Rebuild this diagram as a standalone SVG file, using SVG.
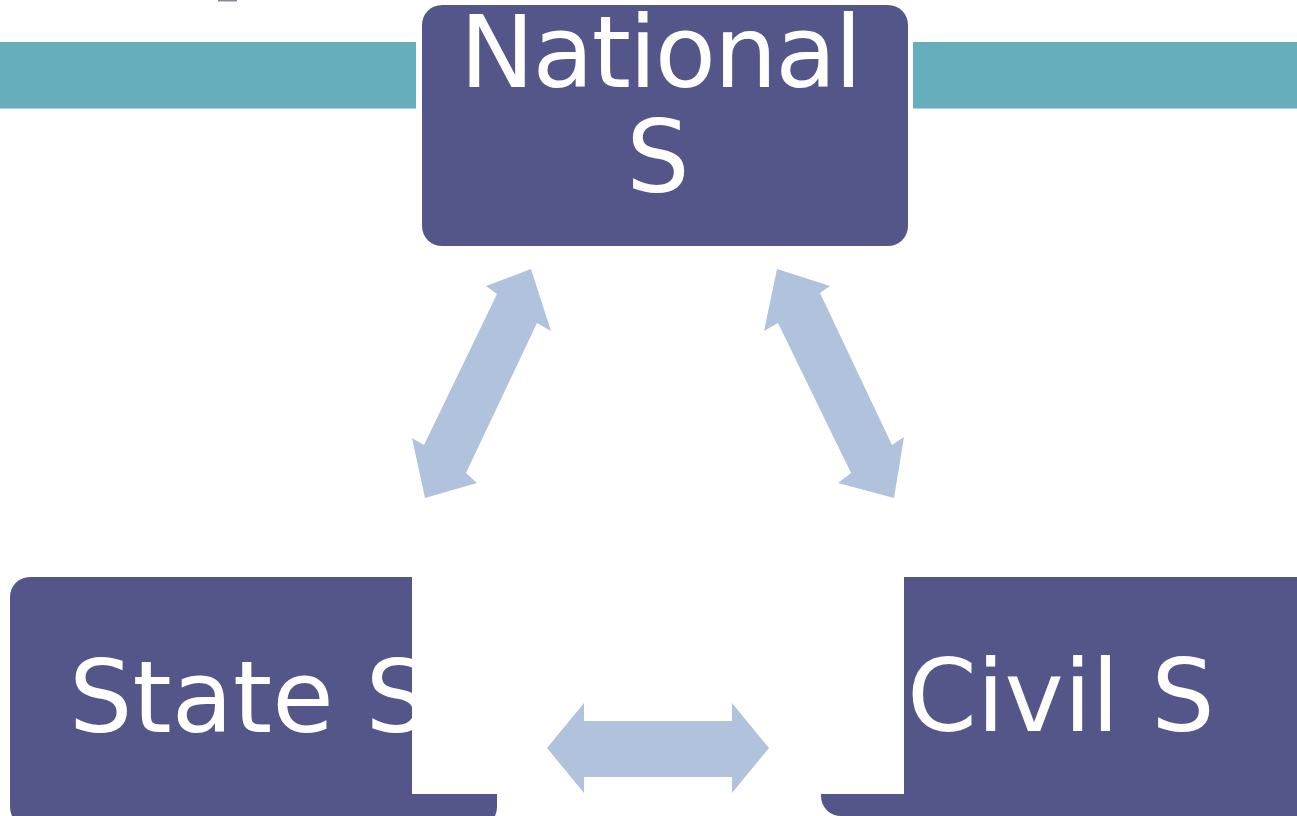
<svg xmlns="http://www.w3.org/2000/svg" width="1297" height="816" viewBox="0 0 1297 816">
<style>
.bar{fill:#67aebd}
.box{fill:#545689}
.mask{fill:#ffffff}
.lbl{font-family:"DejaVu Sans",Verdana,sans-serif;font-size:100px;fill:#ffffff}
.arr{fill:#b1c2dd}
</style>
<rect x="0" y="0" width="1297" height="816" fill="#ffffff"/>
<rect x="218" y="0" width="19" height="1.5" fill="#8a8a9c"/>
<rect class="bar" x="0" y="42" width="416" height="66.5"/>
<rect class="bar" x="913" y="42" width="384" height="66.5"/>
<g id="node-national">
<rect class="box" x="422" y="5" width="486" height="241" rx="20" ry="20"/>
<text class="lbl" x="660" y="87" text-anchor="middle" letter-spacing="-2">National</text>
<text class="lbl" x="658" y="192" text-anchor="middle">S</text>
</g>
<g id="node-state">
<rect class="box" x="10" y="577" width="487" height="250" rx="20" ry="20"/>
<text class="lbl" x="69" y="732">State S</text>
<rect class="mask" x="412" y="577" width="86" height="217"/>
</g>
<g id="node-civil">
<rect class="box" x="821" y="577" width="496" height="239" rx="20" ry="20"/>
<text class="lbl" x="907" y="731">Civil S</text>
<rect class="mask" x="820" y="577" width="84" height="217"/>
</g>
<g id="connectors">
<polygon class="arr" points="531,269 551,331 537,323 466,473 477,483 425,498 412,438 424,445 497,294 486,286"/>
<polygon class="arr" points="777,269 830,286 820,293 892,445 904,437 894,498 838,483 851,473 778,323 764,331"/>
<polygon class="arr" points="547,748 584,703 584,721 732,721 732,703 769,748 732,793 732,777 584,777 584,793"/>
</g>
</svg>
